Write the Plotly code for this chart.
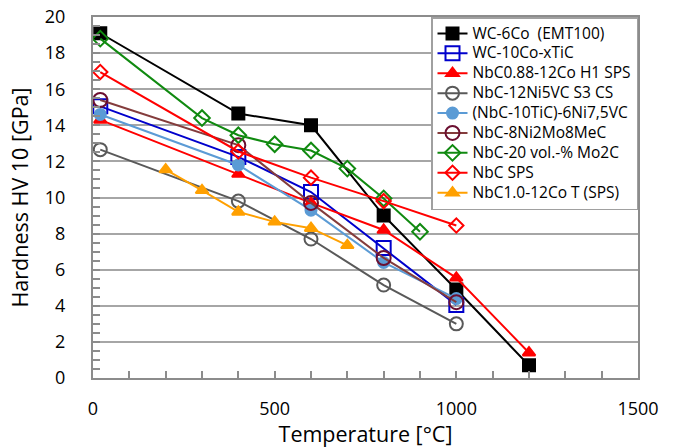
import plotly.graph_objects as go

# Data
wc6_x = [20, 400, 600, 800, 1000, 1200]
wc6_y = [19.1, 14.65, 14.0, 9.0, 4.9, 0.7]

wc10_x = [20, 400, 600, 800, 1000]
wc10_y = [15.05, 12.25, 10.3, 7.2, 4.05]

nbc088_x = [20, 400, 600, 800, 1000, 1200]
nbc088_y = [14.3, 11.3, 9.7, 8.2, 5.55, 1.4]

nbc12ni_x = [20, 400, 600, 800, 1000]
nbc12ni_y = [12.65, 9.8, 7.7, 5.15, 3.0]

nbctic_x = [20, 400, 600, 800, 1000]
nbctic_y = [14.6, 11.8, 9.3, 6.4, 4.4]

nbc8ni_x = [20, 400, 600, 800, 1000]
nbc8ni_y = [15.4, 12.9, 9.7, 6.65, 4.2]

nbcmo_x = [20, 300, 400, 500, 600, 700, 800, 900]
nbcmo_y = [18.8, 14.4, 13.45, 12.95, 12.6, 11.6, 9.95, 8.1]

nbcsps_x = [20, 400, 600, 800, 1000]
nbcsps_y = [16.95, 12.55, 11.1, 9.8, 8.45]

nbc10_x = [200, 300, 400, 500, 600, 700]
nbc10_y = [11.55, 10.4, 9.2, 8.65, 8.3, 7.35]

names = ["WC-6Co&nbsp;&nbsp;(EMT100)", "WC-10Co-xTiC", "NbC0.88-12Co H1 SPS", "NbC-12Ni5VC S3 CS",
         "(NbC-10TiC)-6Ni7,5VC", "NbC-8Ni2Mo8MeC", "NbC-20 vol.-% Mo2C", "NbC SPS",
         "NbC1.0-12Co T (SPS)"]

fig = go.Figure()

def add(x, y, name, lc, sym, size, mfill, mline, lw=2):
    fig.add_trace(go.Scatter(
        x=x, y=y, name='<span style="font-size:15.5px">' + name + '</span>',
        mode="lines+markers",
        line=dict(color=lc, width=lw),
        marker=dict(symbol=sym, size=size, color=mfill,
                    line=dict(color=mline, width=2)),
    ))

add(wc6_x, wc6_y, names[0], "#000000", "square", 12, "#000000", "#000000")
add(wc10_x, wc10_y, names[1], "#0000CC", "square-open", 14, "#0000CC", "#0000CC")
add(nbc088_x, nbc088_y, names[2], "#FF0000", "triangle-up", 11, "#FF0000", "#FF0000")
add(nbc12ni_x, nbc12ni_y, names[3], "#595959", "circle-open", 13, "#595959", "#595959")
add(nbctic_x, nbctic_y, names[4], "#5B9BD5", "circle", 11, "#5B9BD5", "#5B9BD5")
add(nbc8ni_x, nbc8ni_y, names[5], "#843C3C", "circle-open", 14, "#6B0F30", "#6B0F30")
add(nbcmo_x, nbcmo_y, names[6], "#108A10", "diamond-open", 12, "#108A10", "#108A10")
add(nbcsps_x, nbcsps_y, names[7], "#FF0000", "diamond-open", 11, "#FF0000", "#FF0000")
add(nbc10_x, nbc10_y, names[8], "#FFA000", "triangle-up", 11, "#FFA000", "#FFA000")

axis_col = "#8C8C8C"
fig.update_layout(
    width=677, height=448,
    margin=dict(l=93, r=39, t=17, b=70),
    paper_bgcolor="white", plot_bgcolor="white",
    font=dict(family="Open Sans", color="#000000"),
    showlegend=True,
    legend=dict(x=1, xanchor="right", y=1, yanchor="top",
                bgcolor="white", bordercolor="#A0A0A0", borderwidth=1.5,
                font=dict(size=13, family="Open Sans"),
                itemwidth=30, tracegroupgap=0),
    xaxis=dict(range=[0, 1500], dtick=500, tick0=0, automargin=False,
               showgrid=False, zeroline=False,
               showline=True, linecolor=axis_col, linewidth=2, mirror=True,
               ticks="inside", ticklen=7, tickcolor=axis_col, tickwidth=1.5,
               minor=dict(dtick=100, ticks="inside", ticklen=7, tickcolor=axis_col, tickwidth=1.5),
               tickfont=dict(size=18), ticklabelstandoff=13, ticklabeloverflow="allow",
               title=dict(text="Temperature [°C]", font=dict(size=21.5), standoff=0)),
    yaxis=dict(range=[0, 20], dtick=2, tick0=0, automargin=False,
               showgrid=True, gridcolor="#A6A6A6", gridwidth=1.5, zeroline=False,
               showline=True, linecolor=axis_col, linewidth=2, mirror=True,
               ticks="inside", ticklen=7, tickcolor=axis_col, tickwidth=1.5,
               minor=dict(dtick=0.5, ticks="inside", ticklen=7, tickcolor=axis_col, tickwidth=1.5, showgrid=False),
               tickfont=dict(size=18), ticklabelstandoff=22, ticklabeloverflow="allow",
               title=dict(text="Hardness HV 10 [GPa]", font=dict(size=21.5), standoff=10)),
)

fig.write_html("out.html", config={"displayModeBar": False},
               post_script="document.body.style.margin='0';document.body.style.overflow='hidden';")
